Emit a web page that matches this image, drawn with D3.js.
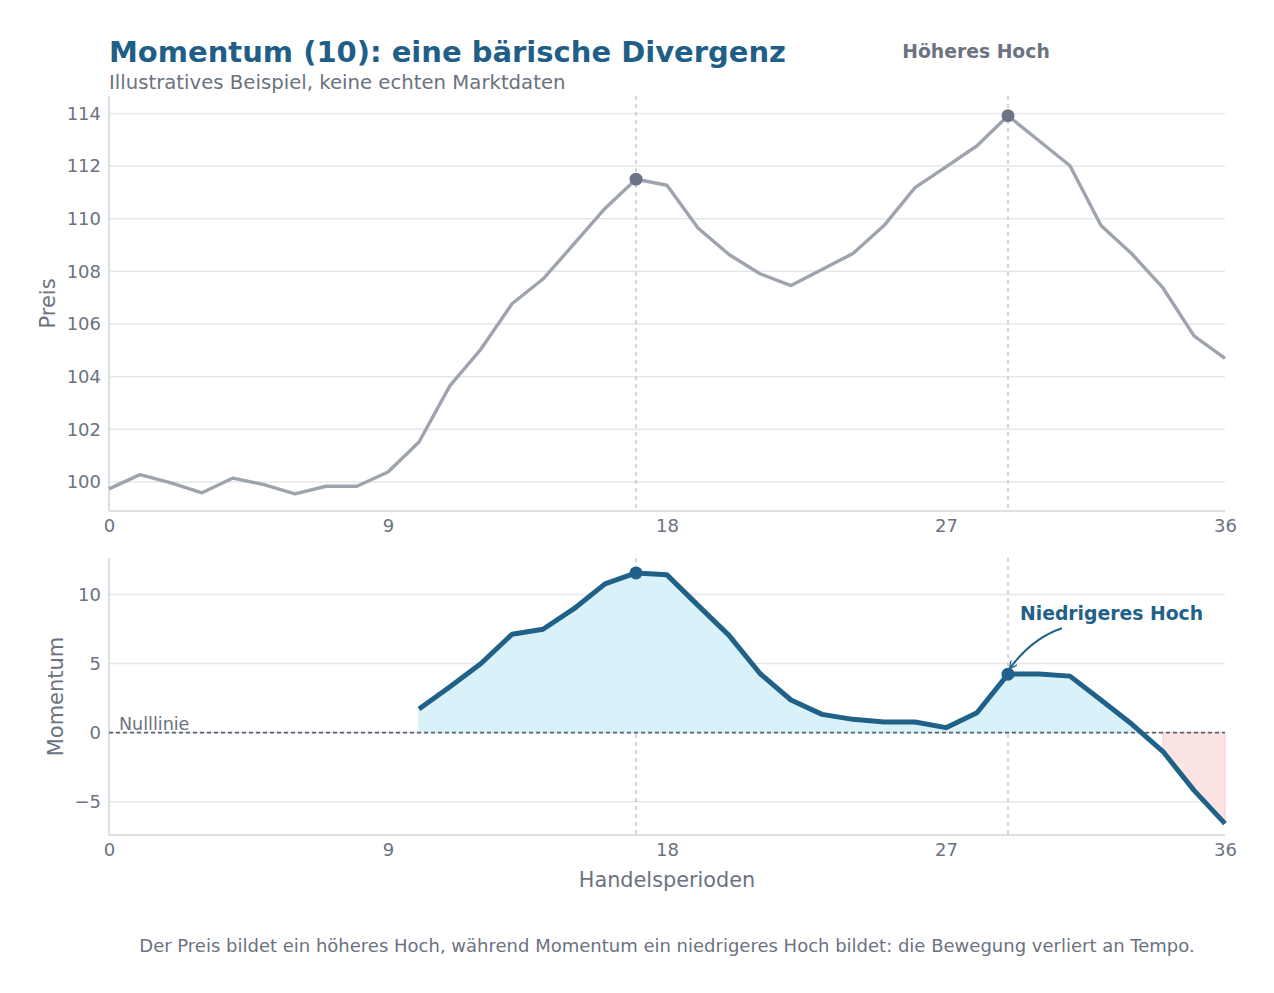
<!DOCTYPE html>
<html>
<head>
<meta charset="utf-8">
<script src="https://cdn.jsdelivr.net/npm/d3@7"></script>
<style>
  body { margin: 0; background: #fff; }
  svg { display: block; font-family: "DejaVu Sans", sans-serif; }
</style>
</head>
<body>
<div id="chart"></div>
<script>
// Preis je Handelsperiode 0..36
const price = [99.74, 100.28, 99.97, 99.59, 100.15, 99.90, 99.55, 99.84, 99.84, 100.38,
    101.52, 103.66, 105.05, 106.77, 107.71, 109.04, 110.39, 111.50, 111.27, 109.65,
    108.64, 107.91, 107.46, 108.07, 108.68, 109.74, 111.18, 111.97, 112.77, 113.91,
    112.96, 112.01, 109.74, 108.66, 107.37, 105.55, 104.70];

// Momentum (10), beginnt bei Periode 10
const momStart = 10;
const momentum = [1.71, 3.32, 5.00, 7.12, 7.48, 8.97, 10.77, 11.56, 11.42, 9.21,
    7.04, 4.28, 2.36, 1.32, 0.96, 0.77, 0.77, 0.36, 1.44, 4.23,
    4.25, 4.09, 2.36, 0.60, -1.37, -4.18, -6.59];

const highs = [17, 29];
const xTicks = [0, 9, 18, 27, 36];
const priceTicks = [100, 102, 104, 106, 108, 110, 112, 114];
const momTicks = [-5, 0, 5, 10];

const width = 1274, height = 993;
const left = 109, right = 1225;
const top1 = { y0: 96, y1: 511 };
const top2 = { y0: 558, y1: 835 };

const grey = '#6b7280';
const blue = '#1f6188';

const svg = d3.select('#chart').append('svg')
    .attr('width', width)
    .attr('height', height);

svg.append('rect').attr('width', width).attr('height', height).attr('fill', '#fff');

const x = d3.scaleLinear().domain([0, 36]).range([left, right]);
const yP = d3.scaleLinear().domain([98.9, 114.66]).range([top1.y1, top1.y0]);
const yM = d3.scaleLinear().domain([-7.41, 12.64]).range([top2.y1, top2.y0]);

const priceData = price.map((v, i) => ({ t: i, v }));
const momData = momentum.map((v, i) => ({ t: i + momStart, v }));

function drawAxes(y, ticks, box, label, labelX) {
    // grid
    svg.append('g').selectAll('line')
        .data(ticks).enter().append('line')
        .attr('x1', left).attr('x2', right)
        .attr('y1', d => y(d)).attr('y2', d => y(d))
        .attr('stroke', '#e5e7eb').attr('stroke-width', 1.5);

    svg.append('g')
        .attr('transform', `translate(${left},0)`)
        .call(d3.axisLeft(y).tickValues(ticks).tickSize(0).tickPadding(8)
            .tickFormat(d => d < 0 ? '\u2212' + Math.abs(d) : d))
        .call(g => g.select('.domain').remove())
        .call(g => g.selectAll('text').attr('fill', grey).style('font-size', '18px')
            .style('font-family', '"DejaVu Sans", sans-serif'));

    svg.append('g')
        .attr('transform', `translate(0,${box.y1})`)
        .call(d3.axisBottom(x).tickValues(xTicks).tickSize(0).tickPadding(8))
        .call(g => g.select('.domain').remove())
        .call(g => g.selectAll('text').attr('fill', grey).style('font-size', '18px')
            .style('font-family', '"DejaVu Sans", sans-serif'));

    // spines
    svg.append('line').attr('x1', left).attr('x2', left)
        .attr('y1', box.y0).attr('y2', box.y1)
        .attr('stroke', '#d1d5db').attr('stroke-width', 1.5);
    svg.append('line').attr('x1', left).attr('x2', right)
        .attr('y1', box.y1).attr('y2', box.y1)
        .attr('stroke', '#d1d5db').attr('stroke-width', 1.5);

    svg.append('text')
        .attr('transform', `translate(${labelX},${(box.y0 + box.y1) / 2}) rotate(-90)`)
        .attr('text-anchor', 'middle')
        .attr('fill', grey)
        .style('font-size', '21px')
        .text(label);

    highs.forEach(h => {
        svg.append('line')
            .attr('x1', x(h)).attr('x2', x(h))
            .attr('y1', box.y0).attr('y2', box.y1)
            .attr('stroke', '#c3c7cd').attr('stroke-width', 1.5)
            .attr('stroke-dasharray', '4,4');
    });
}

drawAxes(yP, priceTicks, top1, 'Preis', 55);
drawAxes(yM, momTicks, top2, 'Momentum', 63);

// Preis
svg.append('path')
    .datum(priceData)
    .attr('fill', 'none')
    .attr('stroke', '#9ea4ae')
    .attr('stroke-width', 3.4)
    .attr('stroke-linejoin', 'round')
    .attr('d', d3.line().x(d => x(d.t)).y(d => yP(d.v)));

svg.selectAll('.pdot')
    .data(highs).enter().append('circle')
    .attr('cx', d => x(d)).attr('cy', d => yP(price[d]))
    .attr('r', 6.5).attr('fill', '#6b7585');

// Momentum Flaechen
svg.append('path')
    .datum(momData)
    .attr('fill', '#d9f2fa')
    .attr('stroke', '#cdeef8')
    .attr('d', d3.area().defined(d => d.v >= 0)
        .x(d => x(d.t)).y0(yM(0)).y1(d => yM(d.v)));

svg.append('path')
    .datum(momData)
    .attr('fill', '#fde4e4')
    .attr('stroke', '#f9caca')
    .attr('d', d3.area().defined(d => d.v < 0)
        .x(d => x(d.t)).y0(yM(0)).y1(d => yM(d.v)));

// Nulllinie
svg.append('line')
    .attr('x1', left).attr('x2', right)
    .attr('y1', yM(0)).attr('y2', yM(0))
    .attr('stroke', '#5b6370').attr('stroke-width', 1.8)
    .attr('stroke-dasharray', '4,3');

svg.append('text')
    .attr('x', left + 10).attr('y', yM(0) - 3)
    .attr('fill', grey)
    .style('font-size', '17.5px')
    .text('Nulllinie');

svg.append('path')
    .datum(momData)
    .attr('fill', 'none')
    .attr('stroke', blue)
    .attr('stroke-width', 5)
    .attr('stroke-linejoin', 'round')
    .attr('d', d3.line().x(d => x(d.t)).y(d => yM(d.v)));

svg.selectAll('.mdot')
    .data(highs).enter().append('circle')
    .attr('cx', d => x(d)).attr('cy', d => yM(momentum[d - momStart]))
    .attr('r', 6.5).attr('fill', blue);

// Annotationen
svg.append('text')
    .attr('x', x(29) - 32).attr('y', 58)
    .attr('text-anchor', 'middle')
    .attr('fill', grey)
    .style('font-size', '18.8px')
    .style('font-weight', 'bold')
    .text('Höheres Hoch');

const tipX = x(29) + 2, tipY = yM(momentum[29 - momStart]) - 6;
svg.append('defs').append('marker')
    .attr('id', 'arrow')
    .attr('viewBox', '0 0 10 10')
    .attr('refX', 9).attr('refY', 5)
    .attr('markerWidth', 8).attr('markerHeight', 8)
    .attr('markerUnits', 'userSpaceOnUse')
    .attr('orient', 'auto')
    .append('path')
    .attr('d', 'M0,0 L10,5 L0,10')
    .attr('fill', 'none')
    .attr('stroke', blue)
    .attr('stroke-width', 1.6);

svg.append('path')
    .attr('d', `M${tipX + 52},${tipY - 40} Q${tipX + 22},${tipY - 30} ${tipX},${tipY}`)
    .attr('fill', 'none')
    .attr('stroke', blue)
    .attr('stroke-width', 2)
    .attr('marker-end', 'url(#arrow)');

svg.append('text')
    .attr('x', x(29) + 12).attr('y', 620)
    .attr('fill', blue)
    .style('font-size', '18.8px')
    .style('font-weight', 'bold')
    .text('Niedrigeres Hoch');

// Titel
svg.append('text')
    .attr('x', left).attr('y', 62)
    .attr('fill', '#1f5f87')
    .style('font-size', '29px')
    .style('font-weight', 'bold')
    .text('Momentum (10): eine bärische Divergenz');

svg.append('text')
    .attr('x', left).attr('y', 89)
    .attr('fill', grey)
    .style('font-size', '19.7px')
    .text('Illustratives Beispiel, keine echten Marktdaten');

svg.append('text')
    .attr('x', (left + right) / 2).attr('y', 887)
    .attr('text-anchor', 'middle')
    .attr('fill', grey)
    .style('font-size', '20.8px')
    .text('Handelsperioden');

svg.append('text')
    .attr('x', 667).attr('y', 952)
    .attr('text-anchor', 'middle')
    .attr('fill', grey)
    .style('font-size', '18px')
    .text('Der Preis bildet ein höheres Hoch, während Momentum ein niedrigeres Hoch bildet: die Bewegung verliert an Tempo.');
</script>
</body>
</html>
